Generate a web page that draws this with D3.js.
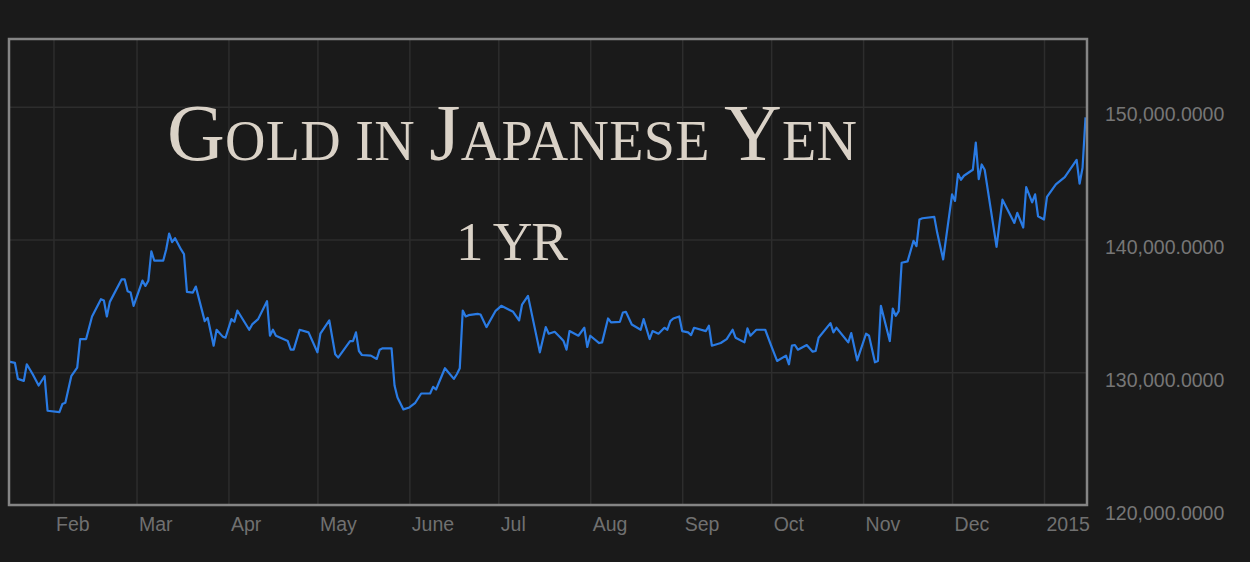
<!DOCTYPE html>
<html><head><meta charset="utf-8">
<script src="https://cdn.jsdelivr.net/npm/d3@7"></script>
<style>html,body{margin:0;padding:0;background:#1a1a1a;}svg{display:block}</style>
</head><body>
<svg id="chart" width="1250" height="562"></svg>
<script>
const dates = [
"2014-01-17","2014-01-19","2014-01-20","2014-01-22","2014-01-23","2014-01-25","2014-01-27","2014-01-29","2014-01-30",
"2014-02-03","2014-02-04","2014-02-05","2014-02-07","2014-02-09","2014-02-10","2014-02-12","2014-02-14","2014-02-17","2014-02-18","2014-02-19","2014-02-20","2014-02-24","2014-02-25","2014-02-26","2014-02-27","2014-02-28",
"2014-03-03","2014-03-04","2014-03-05","2014-03-06","2014-03-07","2014-03-10","2014-03-11","2014-03-12","2014-03-13","2014-03-14","2014-03-16","2014-03-17","2014-03-18","2014-03-20","2014-03-21","2014-03-24","2014-03-25","2014-03-27","2014-03-28","2014-03-30","2014-03-31",
"2014-04-02","2014-04-03","2014-04-04","2014-04-08","2014-04-09","2014-04-11","2014-04-14","2014-04-15","2014-04-16","2014-04-17","2014-04-21","2014-04-22","2014-04-23","2014-04-25","2014-04-28",
"2014-05-01","2014-05-02","2014-05-05","2014-05-07","2014-05-08","2014-05-12","2014-05-13","2014-05-14","2014-05-15","2014-05-16","2014-05-19","2014-05-21","2014-05-22","2014-05-23","2014-05-26","2014-05-27","2014-05-28","2014-05-30",
"2014-06-01","2014-06-03","2014-06-05","2014-06-08","2014-06-09","2014-06-10","2014-06-13","2014-06-16","2014-06-17","2014-06-18","2014-06-19","2014-06-20","2014-06-21","2014-06-24","2014-06-25","2014-06-27","2014-06-30",
"2014-07-02","2014-07-06","2014-07-08","2014-07-09","2014-07-11","2014-07-15","2014-07-17","2014-07-18","2014-07-20","2014-07-22","2014-07-23","2014-07-24","2014-07-25","2014-07-28","2014-07-30","2014-07-31",
"2014-08-01","2014-08-04","2014-08-05","2014-08-07","2014-08-08","2014-08-11","2014-08-12","2014-08-13","2014-08-15","2014-08-18","2014-08-19","2014-08-21","2014-08-22","2014-08-24","2014-08-26","2014-08-27","2014-08-28","2014-08-29","2014-08-31",
"2014-09-01","2014-09-03","2014-09-04","2014-09-05","2014-09-09","2014-09-10","2014-09-11","2014-09-14","2014-09-16","2014-09-18","2014-09-19","2014-09-22","2014-09-23","2014-09-24","2014-09-26","2014-09-29",
"2014-10-01","2014-10-03","2014-10-06","2014-10-07","2014-10-08","2014-10-09","2014-10-10","2014-10-13","2014-10-15","2014-10-16","2014-10-17","2014-10-21","2014-10-22","2014-10-23","2014-10-27","2014-10-28","2014-10-30",
"2014-11-02","2014-11-03","2014-11-05","2014-11-06","2014-11-07","2014-11-10","2014-11-11","2014-11-12","2014-11-13","2014-11-14","2014-11-16","2014-11-18","2014-11-19","2014-11-20","2014-11-21","2014-11-25","2014-11-26","2014-11-28",
"2014-12-01","2014-12-02","2014-12-03","2014-12-04","2014-12-05","2014-12-08","2014-12-09","2014-12-10","2014-12-11","2014-12-12","2014-12-16","2014-12-18","2014-12-22","2014-12-23","2014-12-25","2014-12-26","2014-12-28","2014-12-29","2014-12-30",
"2015-01-01","2015-01-02","2015-01-05","2015-01-08","2015-01-12","2015-01-13","2015-01-14","2015-01-15"
];
const prices = [
130800,130700,129500,129350,130600,129850,129000,129700,127100,
127000,127600,127700,129700,130350,132500,132500,134200,135500,135400,134200,135300,137000,137000,136100,136000,135000,
136900,136500,136900,139100,138400,138400,139250,140450,139800,140100,139250,138900,136050,136000,136450,133850,134100,132000,133200,132700,132600,
134000,133800,134650,133200,133600,134000,135350,132750,133200,132750,132350,131700,131700,133200,133000,
131500,132900,133900,131350,131100,132350,132350,133000,131600,131300,131250,131000,131700,131800,131800,129000,128100,127200,
127350,127700,128400,128400,128900,128700,130300,129500,129850,130300,134650,134200,134300,134400,134350,133400,134600,
135000,134550,133900,135100,135750,131500,133400,132900,133050,132600,132350,131700,133100,132750,133350,131900,
132750,132200,132250,134050,133750,133800,134500,134550,133600,133200,134000,132500,133100,132900,133350,133200,133850,134050,134200,
133100,133000,132800,133350,133100,133500,132000,132200,132500,133200,132600,132250,133300,132750,133200,133200,
132000,130850,131250,130600,132000,132050,131700,132050,131550,131600,132600,133700,133000,133350,132250,132950,130900,
132900,132750,130750,130850,135000,132350,134800,134250,134600,138250,138350,139900,139500,141500,141600,141700,140500,138500,
143400,142900,144950,144500,144800,145250,147300,144550,145650,145250,139450,143000,141250,142000,140900,143950,142800,143400,141750,
141500,143200,144150,144700,146000,144200,145400,149200
];
const monthTicks = ["2014-02-01","2014-03-01","2014-04-01","2014-05-01","2014-06-01","2014-07-01","2014-08-01","2014-09-01","2014-10-01","2014-11-01","2014-12-01","2015-01-01"];
const monthLabels = ["Feb","Mar","Apr","May","June","Jul","Aug","Sep","Oct","Nov","Dec","2015"];
const yTicks = [120000,130000,140000,150000];
const titleParts = [["G",1],["OLD",0],[" ",0],["IN",0],[" ",0],["J",1],["APANESE",0],[" ",0],["Y",1],["EN",0]];
const subtitle = "1 YR";

const parse = d3.utcParse("%Y-%m-%d");
const data = dates.map((d,i)=>({date:parse(d), value:prices[i]}));

const L=9, R=1087, T=39, B=505;
const svg = d3.select("#chart");
svg.append("rect").attr("width",1250).attr("height",562).attr("fill","#1a1a1a");

const x = d3.scaleUtc().domain([Date.UTC(2014,0,17), Date.UTC(2015,0,15,12)]).range([L,R]);
const y = d3.scaleLinear().domain([120000,155100]).range([B,T]);

// vertical grid + month labels
const xAxis = d3.axisBottom(x).tickValues(monthTicks.map(parse)).tickSize(-(B-T)).tickPadding(0)
  .tickFormat((d,i)=>monthLabels[i]);
const gx = svg.append("g").attr("transform",`translate(0,${B})`).call(xAxis);
gx.select(".domain").remove();
gx.selectAll(".tick line").attr("stroke","#2d2d2d").attr("stroke-width",1.5);
gx.selectAll(".tick text").attr("text-anchor","start").attr("x",2).attr("y",26).attr("dy",null)
  .attr("fill","#707070").style("font-family","'Liberation Sans', Arial, sans-serif").style("font-size","19.5px");

// horizontal grid + value labels
const yAxis = d3.axisRight(y).tickValues(yTicks).tickSize(-(R-L)).tickFormat(d3.format(",.4f"));
const gy = svg.append("g").attr("transform",`translate(${R},0)`).call(yAxis);
gy.select(".domain").remove();
gy.selectAll(".tick line").attr("stroke","#2d2d2d").attr("stroke-width",1.5);
gy.selectAll(".tick text").attr("x",18).attr("y",14).attr("dy",null).attr("text-anchor","start")
  .attr("fill","#767676").style("font-family","'Liberation Sans', Arial, sans-serif").style("font-size","19.5px");

// title (small caps, spaced to the reference width)
const serif = "'Liberation Serif','DejaVu Serif',serif";
function fitSpaced(t, targetW, cx){
  const w = t.node().getComputedTextLength();
  const n = t.text().length;
  const ls = (targetW - w) / (n - 1);
  t.attr("letter-spacing", ls).attr("x", cx + ls/2);
}
const tg = svg.append("g");
const title = tg.append("text").attr("x",512).attr("y",160).attr("text-anchor","middle")
  .attr("fill","#dad2c7").style("font-family",serif);
titleParts.forEach(p=>title.append("tspan").style("font-size",(p[1]?80:56)+"px").text(p[0]));
fitSpaced(title, 690, 512);

const st = tg.append("text").attr("x",512).attr("y",260).attr("text-anchor","middle").attr("fill","#dad2c7")
  .style("font-family",serif).style("font-size","55px").text(subtitle);
fitSpaced(st, 112, 512);

// line
const line = d3.line().x(d=>x(d.date)).y(d=>y(d.value));
svg.append("path").datum(data).attr("d",line).attr("fill","none").attr("stroke","#2a7be4")
  .attr("stroke-width",2.2).attr("stroke-linejoin","round");

// frame
svg.append("rect").attr("x",L).attr("y",T).attr("width",R-L).attr("height",B-T)
  .attr("fill","none").attr("stroke","#858585").attr("stroke-width",2.5);
</script>
</body></html>
